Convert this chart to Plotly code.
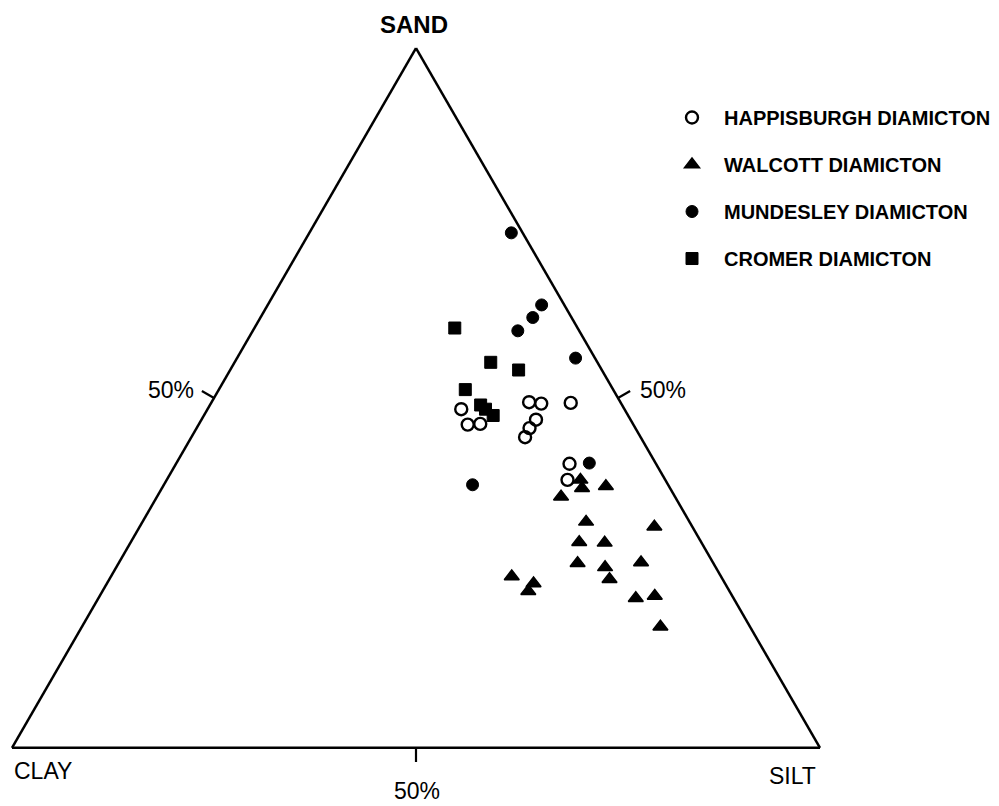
import math
import plotly.graph_objects as go

FONT = "Liberation Sans, Arial, Helvetica, sans-serif"

# ---- data (percent sand / clay / silt) ----
hap_name = "HAPPISBURGH DIAMICTON"
hap_sand = [48.4, 46.2, 46.3, 49.4, 49.2, 49.3, 46.9, 45.7, 44.4, 40.6, 38.3]
hap_clay = [20.2, 20.5, 18.9, 11.3, 9.9, 6.2, 11.7, 13.1, 14.3, 10.7, 12.1]
hap_silt = [31.4, 33.3, 34.8, 39.3, 40.9, 44.5, 41.4, 41.2, 41.3, 48.7, 49.6]

wal_name = "WALCOTT DIAMICTON"
wal_sand = [38.3, 37.1, 37.4, 35.9, 32.3, 31.6, 29.4, 29.3, 26.4, 26.5, 25.8, 24.1, 24.5, 23.5, 22.4, 21.4, 21.7, 17.3]
wal_clay = [10.5, 10.9, 7.8, 14.1, 12.8, 4.7, 15.1, 12.0, 16.8, 8.9, 13.7, 14.0, 25.9, 23.7, 24.9, 12.1, 9.6, 11.1]
wal_silt = [51.2, 52.0, 54.8, 50.0, 54.9, 63.7, 55.5, 58.7, 56.8, 64.6, 60.5, 61.9, 49.6, 52.8, 52.7, 66.5, 68.7, 71.6]

mun_name = "MUNDESLEY DIAMICTON"
mun_sand = [73.6, 63.3, 61.5, 59.6, 55.7, 40.7, 37.6]
mun_clay = [1.4, 2.8, 4.8, 7.6, 2.4, 8.2, 24.2]
mun_silt = [25.0, 33.9, 33.7, 32.8, 41.9, 51.1, 38.2]

cro_name = "CROMER DIAMICTON"
cro_sand = [60.0, 55.1, 54.0, 51.2, 49.0, 48.4, 47.5]
cro_clay = [15.2, 13.2, 10.3, 18.3, 17.5, 17.2, 16.7]
cro_silt = [24.8, 31.7, 35.7, 30.5, 33.5, 34.4, 35.8]

corner_labels = ["SAND", "CLAY", "SILT"]
tick_value = 50
tick_label = "50%"

fig = go.Figure()

def add(name, a, b, c, symbol, size, lw, grp):
    fig.add_trace(go.Scatterternary(
        a=a, b=b, c=c, mode="markers", name=name, legendgroup=grp,
        marker=dict(symbol=symbol, size=size, color="black",
                    line=dict(color="black", width=lw)),
        cliponaxis=False,
    ))

add(hap_name, hap_sand, hap_clay, hap_silt, "circle-open", 12, 2.4, "g1")
add(wal_name, wal_sand, wal_clay, wal_silt, "triangle-up", 13, 1.5, "g2")
add(mun_name, mun_sand, mun_clay, mun_silt, "circle", 12, 1, "g3")
add(cro_name, cro_sand, cro_clay, cro_silt, "square", 12, 1, "g4")

axis_common = dict(
    tickmode="array", tickvals=[tick_value], ticks="",
    showticklabels=False,
    linecolor="black", linewidth=2.5, showgrid=False, showline=True,
    title=dict(text=""),
)

# plot-area geometry (pixels); the ternary triangle fills it exactly
L, T, W = 12, 48, 808
H = W * math.sqrt(3) / 2
fig.update_layout(
    width=999, height=806,
    margin=dict(l=L, r=999 - L - W, t=T, b=806 - T - H, pad=0, autoexpand=False),
    paper_bgcolor="white",
    ternary=dict(
        sum=100, bgcolor="white",
        domain=dict(x=[0, 1], y=[0, 1]),
        aaxis=axis_common, baxis=axis_common, caxis=axis_common,
    ),
    showlegend=True,
    legend=dict(
        x=(660 - L) / W, y=(T + H - 98) / H, xanchor="left", yanchor="top",
        font=dict(family=FONT, size=20, color="black", weight="bold"),
        itemwidth=54, tracegroupgap=18, traceorder="grouped",
        bgcolor="rgba(0,0,0,0)",
    ),
    font=dict(family=FONT, color="black"),
)

def px2paper(x, y):
    return (x - L) / W, (T + H - y) / H

# triangle vertices in pixels
A = (L + W / 2, T)          # sand apex
B = (L, T + H)              # clay corner
C = (L + W, T + H)          # silt corner

f = tick_value / 100.0
TL = 14  # tick length in px
s30, c30 = 0.5, math.sqrt(3) / 2
ticks = [
    ((B[0] + f * (A[0] - B[0]), B[1] + f * (A[1] - B[1])), (-c30, -s30), "left"),
    ((A[0] + f * (C[0] - A[0]), A[1] + f * (C[1] - A[1])), (c30, -s30), "right"),
    ((C[0] + f * (B[0] - C[0]), C[1]), (0.0, 1.0), "bottom"),
]
for (bx, by), (nx, ny), side in ticks:
    ex, ey = bx + TL * nx, by + TL * ny
    x0p, y0p = px2paper(bx, by)
    x1p, y1p = px2paper(ex, ey)
    fig.add_shape(type="line", xref="paper", yref="paper",
                  x0=x0p, y0=y0p, x1=x1p, y1=y1p,
                  line=dict(color="black", width=2.2))
    if side == "left":
        lx, ly, xa, ya = ex - 6, ey - 1, "right", "middle"
    elif side == "right":
        lx, ly, xa, ya = ex + 8, ey - 1, "left", "middle"
    else:
        lx, ly, xa, ya = ex + 1, ey + 14, "center", "top"
    lxp, lyp = px2paper(lx, ly)
    fig.add_annotation(x=lxp, y=lyp, xref="paper", yref="paper",
                       xanchor=xa, yanchor=ya, text=tick_label, showarrow=False,
                       font=dict(family=FONT, size=23, color="black"))

ann = [
    (corner_labels[0], A[0] - 2, 25, "center", 24, True),
    (corner_labels[1], 12, 771, "left", 23, False),
    (corner_labels[2], 818, 776, "right", 23, False),
]
for text, x, y, anchor, size, bold in ann:
    xp, yp = px2paper(x, y)
    fig.add_annotation(
        x=xp, y=yp, xref="paper", yref="paper", xanchor=anchor, yanchor="middle",
        text=f"<b>{text}</b>" if bold else text, showarrow=False,
        font=dict(family=FONT, size=size, color="black"),
    )

fig.write_html("out.html")
